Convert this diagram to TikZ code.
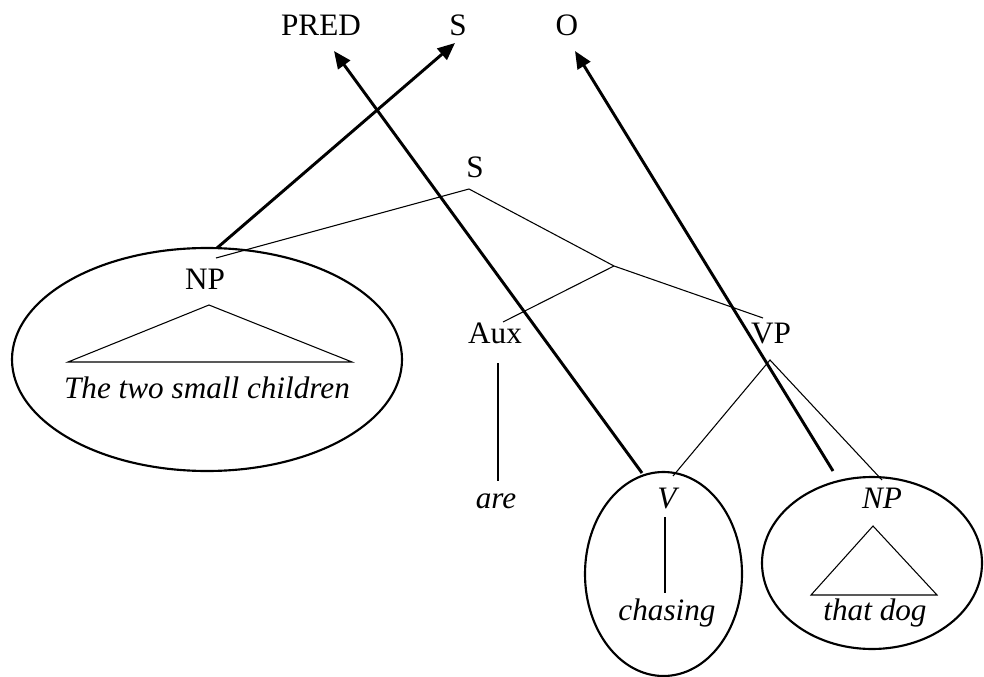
\documentclass[tikz,border=0pt]{standalone}
\usepackage{fontspec}
\setmainfont{Liberation Serif}
\usetikzlibrary{arrows.meta,shapes.geometric}
\begin{document}
\begin{tikzpicture}[x=0.75pt,y=-0.75pt,
  lbl/.style={inner sep=0pt, anchor=base, font=\fontsize{23.4}{28}\selectfont},
  itl/.style={lbl, font=\fontsize{23.4}{28}\selectfont\itshape},
  branch/.style={line width=0.8pt},
  link/.style={line width=2.2pt, -{Triangle[length=13pt,width=11pt]}},
  bubble/.style={draw, ellipse, line width=1.6pt, inner sep=0pt}]
\useasboundingbox (0,0) rectangle (984,677);

% grammatical functions
\node[lbl] (pred) at (321,36) {PRED};
\node[lbl] (subj) at (458,36) {S};
\node[lbl] (obj)  at (567,36) {O};

% phrase-structure labels
\node[lbl] (s)   at (475,178) {S};
\node[lbl] (np1) at (205,289) {NP};
\node[lbl] (aux) at (495,343) {Aux};
\node[lbl] (vp)  at (771,343) {VP};
\node[itl] (are) at (496,508) {are};
\node[itl] (v)   at (667,508) {V};
\node[itl] (np2) at (882,508) {NP};
\node[itl] (w1)  at (207,398) {The two small children};
\node[itl] (w2)  at (667,620) {chasing};
\node[itl] (w3)  at (875,620) {that dog};

% branch end points
\coordinate (sT)   at (469,189);
\coordinate (np1T) at (216,258);
\coordinate (mid)  at (614,266);
\coordinate (auxT) at (503,322);
\coordinate (vpT)  at (763,318);
\coordinate (vpB)  at (770,360);
\coordinate (vT)   at (673,476);
\coordinate (np2T) at (882,480);
\coordinate (auxB) at (498,363);
\coordinate (areT) at (498,481);
\coordinate (vB)   at (665,517);
\coordinate (w2T)  at (665,593);
% triangles
\coordinate (t1a) at (209,305);
\coordinate (t1l) at (68,362);
\coordinate (t1r) at (352,362);
\coordinate (t2a) at (873,526);
\coordinate (t2l) at (811,595);
\coordinate (t2r) at (937,595);

\draw[branch] (np1T) -- (sT) -- (mid) -- (vpT);
\draw[branch] (mid) -- (auxT);
\draw[branch] (auxB) -- (areT);
\draw[branch] (vT) -- (vpB) -- (np2T);
\draw[branch] (vB) -- (w2T);
\draw[branch] (t1a) -- (t1l) -- (t1r) -- cycle;
\draw[branch] (t2a) -- (t2l) -- (t2r) -- cycle;

% constituents
\node[bubble, minimum width=292.5pt, minimum height=167.25pt] (e1) at (207,359.5) {};
\node[bubble, minimum width=117.75pt, minimum height=153pt] (e2) at (663.5,574) {};
\node[bubble, minimum width=165pt, minimum height=129pt] (e3) at (872,563) {};

% function links
\coordinate (l1) at (217,248);
\coordinate (l2) at (642,473);
\coordinate (l3) at (833,471);
\coordinate (h1) at (455,43);
\coordinate (h2) at (334,51);
\coordinate (h3) at (575,51);
\draw[link] (l1) -- (h1);
\draw[link] (l2) -- (h2);
\draw[link] (l3) -- (h3);
\end{tikzpicture}
\end{document}
